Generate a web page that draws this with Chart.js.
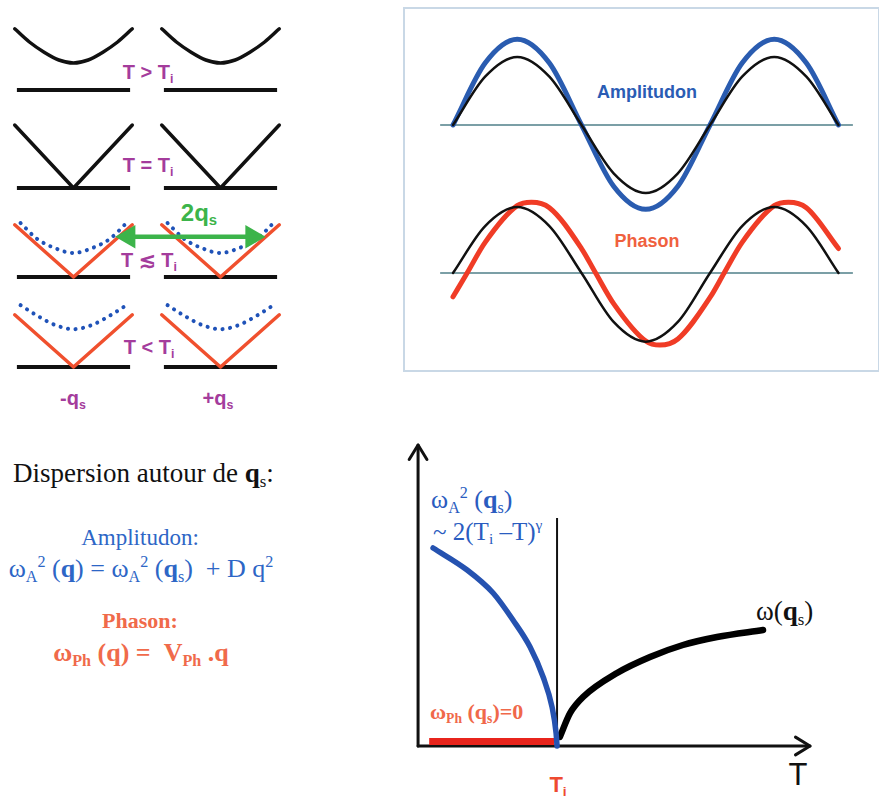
<!DOCTYPE html>
<html>
<head>
<meta charset="utf-8">
<script src="https://cdn.jsdelivr.net/npm/chart.js@4/dist/chart.umd.min.js"></script>
<style>
body { margin: 0; width: 879px; height: 800px; background: #fff; position: relative; overflow: hidden; }
canvas { position: absolute; }
.t { position: absolute; white-space: nowrap; transform: translateY(-50%); line-height: 1; }
.c { transform: translate(-50%, -50%); }
.lbl { font-family: "Liberation Sans", Arial, sans-serif; font-weight: bold; color: #a43c9c; font-size: 20px; }
.serif { font-family: "Liberation Serif", "Times New Roman", serif; }
sub { font-size: 0.62em; vertical-align: -0.3em; line-height: 0; }
sup { font-size: 0.62em; vertical-align: 0.6em; line-height: 0; }
#box { position: absolute; left: 403px; top: 7px; width: 473px; height: 361px; border: 2px solid #c9d8e6; }
</style>
</head>
<body>
<div id="box"></div>

<!-- top-left labels -->
<div class="t c lbl" style="left:148px;top:72px">T &gt; T<sub>i</sub></div>
<div class="t c lbl" style="left:148px;top:165px">T = T<sub>i</sub></div>
<div class="t c lbl" style="left:199px;top:213px;color:#3cb44a;font-size:24px">2q<sub>s</sub></div>
<div class="t c lbl" style="left:149px;top:260px">T ≲ T<sub>i</sub></div>
<div class="t c lbl" style="left:149px;top:347px">T &lt; T<sub>i</sub></div>
<div class="t c lbl" style="left:73px;top:398px">-q<sub>s</sub></div>
<div class="t c lbl" style="left:218px;top:398px">+q<sub>s</sub></div>

<!-- wave panel labels -->
<div class="t c lbl" style="left:647px;top:92px;color:#2a5cb4;font-size:18px">Amplitudon</div>
<div class="t c lbl" style="left:647px;top:241px;color:#f0603e;font-size:18px">Phason</div>

<!-- formulas -->
<div class="t serif" style="left:13px;top:473px;font-size:27px;color:#111">Dispersion autour de <b>q</b><sub>s</sub>:</div>
<div class="t c serif" style="left:140px;top:537px;font-size:23px;color:#2d66c6">Amplitudon:</div>
<div class="t c serif" style="left:141px;top:569px;font-size:26px;color:#2d66c6">ω<sub>A</sub><sup>2</sup> (<b>q</b>) = ω<sub>A</sub><sup>2</sup> (<b>q</b><sub>s</sub>) &nbsp;+ D q<sup>2</sup></div>
<div class="t c serif" style="left:140px;top:621px;font-size:22px;color:#f06a4a;font-weight:bold">Phason:</div>
<div class="t c serif" style="left:141px;top:653px;font-size:26px;color:#f06a4a;font-weight:bold">ω<sub>Ph</sub> (q) = &nbsp;V<sub>Ph</sub> .q</div>

<!-- bottom-right labels -->
<div class="t serif" style="left:431px;top:500px;font-size:26px;color:#2a5cc0">ω<sub>A</sub><sup>2</sup> (<b>q</b><sub>s</sub>)</div>
<div class="t serif" style="left:433px;top:531px;font-size:25px;color:#2a5cc0">~ 2(T<sub>i</sub> –T)<sup>γ</sup></div>
<div class="t serif" style="left:756px;top:611px;font-size:27px;color:#111">ω(<b>q</b><sub>s</sub>)</div>
<div class="t serif" style="left:430px;top:712px;font-size:22px;color:#f0684a;font-weight:bold">ω<sub>Ph</sub> (<b>q</b><sub>s</sub>)=0</div>
<div class="t c lbl" style="left:558px;top:785px;color:#ee4a30;font-size:22px">T<sub>i</sub></div>
<div class="t c" style="left:798px;top:774px;font-family:'Liberation Sans',Arial,sans-serif;font-size:31px;color:#111">T</div>

<script>
// dispersion sketches, q measured from -qs / +qs, energy in arbitrary units
const flatQ = [-0.77, 0.77];
const flatW = [0, 0];
const bowlQ = [-0.8, -0.6, -0.4, -0.2, 0, 0.2, 0.4, 0.6, 0.8];
const bowlAbove = [1.02, 0.8, 0.63, 0.5, 0.45, 0.5, 0.63, 0.8, 1.02];
const vQ = [-0.8, 0, 0.8];
const vAtTi = [1.05, 0, 1.05];
const vBelow = [0.87, 0, 0.87];
const dotQ = [-0.72, -0.5, -0.25, 0, 0.25, 0.5, 0.72];
const dotNear = [0.9, 0.64, 0.48, 0.4, 0.48, 0.64, 0.9];
const dotBelow = [1.03, 0.86, 0.7, 0.63, 0.7, 0.86, 1.03];
const arrowQ = [-0.25, 1.43];
const arrowW = [0.67, 0.67];
const centres = [-1, 1];

// modulated waves, x in wavelengths
const waveX = [0, 0.125, 0.25, 0.375, 0.5, 0.625, 0.75, 0.875, 1, 1.125, 1.25, 1.375, 1.5];
const refTop = [0, 0.71, 1, 0.71, 0, -0.71, -1, -0.71, 0, 0.71, 1, 0.71, 0];
const amplitudon = [0, 0.91, 1.26, 0.91, 0, -0.9, -1.24, -0.9, 0, 0.91, 1.26, 0.91, 0];
const refBottom = [0, 0.69, 0.97, 0.69, 0, -0.72, -1.01, -0.72, 0, 0.69, 0.97, 0.69, 0];
const phasonX = [0, 0.055, 0.125, 0.25, 0.305, 0.375, 0.5, 0.555, 0.625, 0.75, 0.805, 0.875, 1, 1.055, 1.125, 1.25, 1.305, 1.375, 1.5];
const phason = [-0.35, 0, 0.45, 0.99, 1.04, 0.96, 0.36, 0, -0.45, -1.0, -1.06, -0.97, -0.36, 0, 0.45, 0.99, 1.04, 0.96, 0.36];
const axisX = [-0.05, 1.556];

// soft mode vs temperature (T in units of Ti)
const ampT = [0.108, 0.353, 0.54, 0.683, 0.806, 0.9, 0.964, 0.993, 1.0];
const ampW = [1.98, 1.76, 1.53, 1.26, 0.99, 0.69, 0.39, 0.13, 0];
const highT = [1.02, 1.094, 1.187, 1.432, 1.669, 1.906, 2.151, 2.482];
const highW = [0.09, 0.33, 0.49, 0.73, 0.89, 1.01, 1.09, 1.16];
const phT = [0.08, 0.98];
const phW = [0.045, 0.045];
const tiLine = [0, 2.28];
const tMax = 2.82;
const wMax = 3.01;

function pts(xs, ys, dx) {
    return xs.map((x, i) => ({x: x + (dx || 0), y: ys[i]}));
}

function line(data, color, width, extra) {
    return Object.assign({data: data, borderColor: color, backgroundColor: color, borderWidth: width, fill: false, clip: false, tension: 0}, extra || {});
}

const smooth = {cubicInterpolationMode: "monotone"};

const arrowTips = {
    id: "arrowTips",
    afterDatasetsDraw(chart) {
        const ctx = chart.ctx;
        chart.data.datasets.forEach((ds, i) => {
            if (!ds.arrowTip) return;
            const p = chart.getDatasetMeta(i).data;
            const a = p[p.length - 2], b = p[p.length - 1];
            const ang = Math.atan2(b.y - a.y, b.x - a.x);
            ctx.save();
            ctx.strokeStyle = ds.borderColor;
            ctx.lineWidth = ds.borderWidth;
            ctx.lineCap = "round";
            ctx.lineJoin = "round";
            ctx.beginPath();
            ctx.moveTo(b.x - ds.arrowTip * Math.cos(ang - 0.55), b.y - ds.arrowTip * Math.sin(ang - 0.55));
            ctx.lineTo(b.x, b.y);
            ctx.lineTo(b.x - ds.arrowTip * Math.cos(ang + 0.55), b.y - ds.arrowTip * Math.sin(ang + 0.55));
            ctx.stroke();
            ctx.restore();
        });
    }
};

function sketch(left, top, width, height, xr, yr, datasets) {
    const cv = document.createElement("canvas");
    cv.width = width;
    cv.height = height;
    cv.style.left = left + "px";
    cv.style.top = top + "px";
    document.body.appendChild(cv);
    return new Chart(cv.getContext("2d"), {
        type: "line",
        data: {datasets: datasets},
        options: {
            responsive: false,
            animation: false,
            events: [],
            layout: {padding: 0, autoPadding: false},
            plugins: {legend: {display: false}, tooltip: {enabled: false}},
            elements: {point: {radius: 0}, line: {borderCapStyle: "round", borderJoinStyle: "round"}},
            scales: {
                x: {type: "linear", display: false, min: xr[0], max: xr[1]},
                y: {type: "linear", display: false, min: yr[0], max: yr[1]}
            }
        },
        plugins: [arrowTips]
    });
}

// top-left: four temperature rows, two branches each (-qs, +qs)
const rows = [
    {base: 90, upper: [[bowlQ, bowlAbove, "#111", 3.5, smooth]]},
    {base: 188, upper: [[vQ, vAtTi, "#111", 3.5]]},
    {base: 277, upper: [[dotQ, dotNear, "#1f52b8", 4, Object.assign({borderDash: [0.1, 7.5]}, smooth)], [vQ, vBelow, "#f0502e", 3.5]]},
    {base: 367, upper: [[dotQ, dotBelow, "#1f52b8", 4, Object.assign({borderDash: [0.1, 7.5]}, smooth)], [vQ, vBelow, "#f0502e", 3.5]]}
];
rows.forEach((row, r) => {
    const ds = [];
    if (r === 2) {
        ds.push(line(pts(arrowQ, arrowW), "#3cb44a", 4.5, {
            pointStyle: "triangle", pointRadius: 9, pointRotation: [-90, 90], borderCapStyle: "butt"
        }));
    }
    centres.forEach(c => {
        row.upper.forEach(u => ds.push(line(pts(u[0], u[1], c), u[2], u[3], u[4])));
        ds.push(line(pts(flatQ, flatW, c), "#111", 4, {borderCapStyle: "butt"}));
    });
    ds.forEach((d, k) => d.order = k);
    sketch(0, row.base - 75, 294, 90, [-2, 2], [-0.25, 1.25], ds);
});

// top-right: modulation waves
const waveSets = [
    {top: 23, ref: refTop, x: waveX, y: amplitudon, color: "#2a5cb0"},
    {top: 171, ref: refBottom, x: phasonX, y: phason, color: "#f03c26"}
];
waveSets.forEach(w => {
    const ds = [
        line(pts(waveX, w.ref), "#111", 2.5, smooth),
        line(pts(w.x, w.y), w.color, 5, smooth),
        line(pts(axisX, [0, 0]), "#4f7f88", 1.5, {borderCapStyle: "butt"})
    ];
    ds.forEach((d, k) => d.order = k);
    sketch(440, w.top, 413, 204, [-0.0506, 1.5564], [-1.5, 1.5], ds);
});

// bottom-right: mode frequencies vs T
const modeSets = [
    line(pts(ampT, ampW), "#2552b0", 5.5, smooth),
    line(pts(highT, highW), "#000", 6.5, smooth),
    line(pts(phT, phW), "#e8241c", 7, {borderCapStyle: "butt"}),
    line(pts([1, 1], tiLine), "#111", 2, {borderCapStyle: "butt"}),
    line(pts([0, tMax], [0, 0]), "#111", 3, {arrowTip: 17}),
    line(pts([0, 0], [0, wMax]), "#111", 3, {arrowTip: 17})
];
modeSets.forEach((d, k) => d.order = k);
sketch(400, 430, 430, 330, [-0.13, 2.964], [-0.14, 3.16], modeSets);
</script>
</body>
</html>
